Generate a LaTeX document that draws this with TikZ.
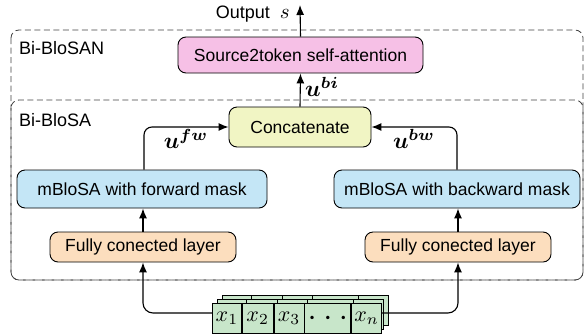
\documentclass[tikz,border=0pt]{standalone}
\usepackage{amsmath,bm}
\usepackage{graphicx}
\usepackage{fontspec}
\setmainfont{Liberation Sans}
\usetikzlibrary{arrows.meta}
\newcommand{\bigmth}[2]{\scalebox{#1}{\normalsize$#2$}}
\definecolor{cpink}{RGB}{246,192,230}
\definecolor{cyel}{RGB}{241,245,196}
\definecolor{cblue}{RGB}{196,230,246}
\definecolor{corange}{RGB}{252,222,190}
\definecolor{cgreen}{RGB}{200,230,202}
\tikzset{
  blk/.style={draw=black, line width=0.9pt, rounded corners=8pt, inner sep=0pt,
    font=\fontsize{17.5}{20}\selectfont, align=center},
  cell/.style={draw=black, line width=0.8pt, fill=cgreen, minimum height=30pt, inner sep=0pt,
    font=\fontsize{18}{20}\selectfont},
  arr/.style={line width=1.1pt, -{Latex[length=10pt,width=8pt]}},
  dbox/.style={draw=black!75, line width=0.8pt, dash pattern=on 6pt off 3.5pt, rounded corners=8pt},
  lbl/.style={font=\fontsize{18}{20}\selectfont, inner sep=0pt},
}
\begin{document}
\begin{tikzpicture}[x=1pt,y=-1pt]
\useasboundingbox (0,0) rectangle (585,335);
% dashed boxes
\draw[dbox] (11,30) rectangle (583,280);
\draw[dbox] (11,100) rectangle (583,280);
\node[lbl, anchor=west] (lsan) at (19,48) {Bi-BloSAN};
\node[lbl, anchor=west] (lsa) at (19,120) {Bi-BloSA};
% blocks
\node[blk, fill=cpink, minimum width=245pt, minimum height=36pt] (src) at (300.5,55) {Source2token self-attention};
\node[blk, fill=cyel, minimum width=142pt, minimum height=40pt] (cat) at (300,127) {Concatenate};
\node[blk, fill=cblue, minimum width=250pt, minimum height=38pt] (fwd) at (142,189) {mBloSA with forward mask};
\node[blk, fill=cblue, minimum width=246pt, minimum height=38pt] (bwd) at (457,189) {mBloSA with backward mask};
\node[blk, fill=corange, minimum width=186pt, minimum height=30pt] (fcl) at (143,247) {Fully conected layer};
\node[blk, fill=corange, minimum width=186pt, minimum height=30pt] (fcr) at (458,247) {Fully conected layer};
% input stack (back layers)
\foreach \dx/\dy in {10/-8, 5/-4}{
  \begin{scope}[shift={(\dx,\dy)}]
    \draw[line width=0.8pt, fill=cgreen] (212,303) rectangle (378,333);
    \foreach \xx in {241,272,302,348} \draw[line width=0.8pt] (\xx,303) -- (\xx,333);
  \end{scope}
}
% front layer
\node[cell, minimum width=29pt, anchor=west] (c1) at (212,318) {\bigmth{2.2}{x_1}};
\node[cell, minimum width=31pt, anchor=west] (c2) at (c1.east) {\bigmth{2.2}{x_2}};
\node[cell, minimum width=30pt, anchor=west] (c3) at (c2.east) {\bigmth{2.2}{x_3}};
\node[cell, minimum width=46pt, anchor=west] (c4) at (c3.east) {\bigmth{2.2}{\boldsymbol{\cdot}\,\boldsymbol{\cdot}\,\boldsymbol{\cdot}}};
\node[cell, minimum width=30pt, anchor=west] (c5) at (c4.east) {\bigmth{2.2}{x_n}};
\coordinate (inL) at (212,313);
\coordinate (inR) at (c5.east |- inL);
% connectors
\draw[arr, rounded corners=10pt] (inL) -| (fcl.south);
\draw[arr, rounded corners=10pt] (inR) -| (fcr.south);
\draw[arr] (fcl.north) -- (fcl.north |- fwd.south);
\draw[arr] (fcr.north) -- (fcr.north |- bwd.south);
\draw[arr, rounded corners=8pt] ([xshift=2pt]fwd.north) |- (cat.west);
\draw[arr, rounded corners=8pt] (bwd.north) |- (cat.east);
\draw[arr] (cat.north) -- (src.south);
\coordinate (outtop) at (300,5);
\draw[arr] (src.north) -- (outtop);
% labels
\node[lbl] (lfw) at (186,139) {\bigmth{2.3}{\boldsymbol{u}^{\boldsymbol{fw}}}};
\node[lbl] (lbw) at (414,139) {\bigmth{2.3}{\boldsymbol{u}^{\boldsymbol{bw}}}};
\node[lbl, anchor=west] (lbi) at (305,87) {\bigmth{2.3}{\boldsymbol{u}^{\boldsymbol{bi}}}};
\node[lbl, anchor=east] (lout) at (290,14) {Output\; \bigmth{2.1}{s}};
\end{tikzpicture}
\end{document}
